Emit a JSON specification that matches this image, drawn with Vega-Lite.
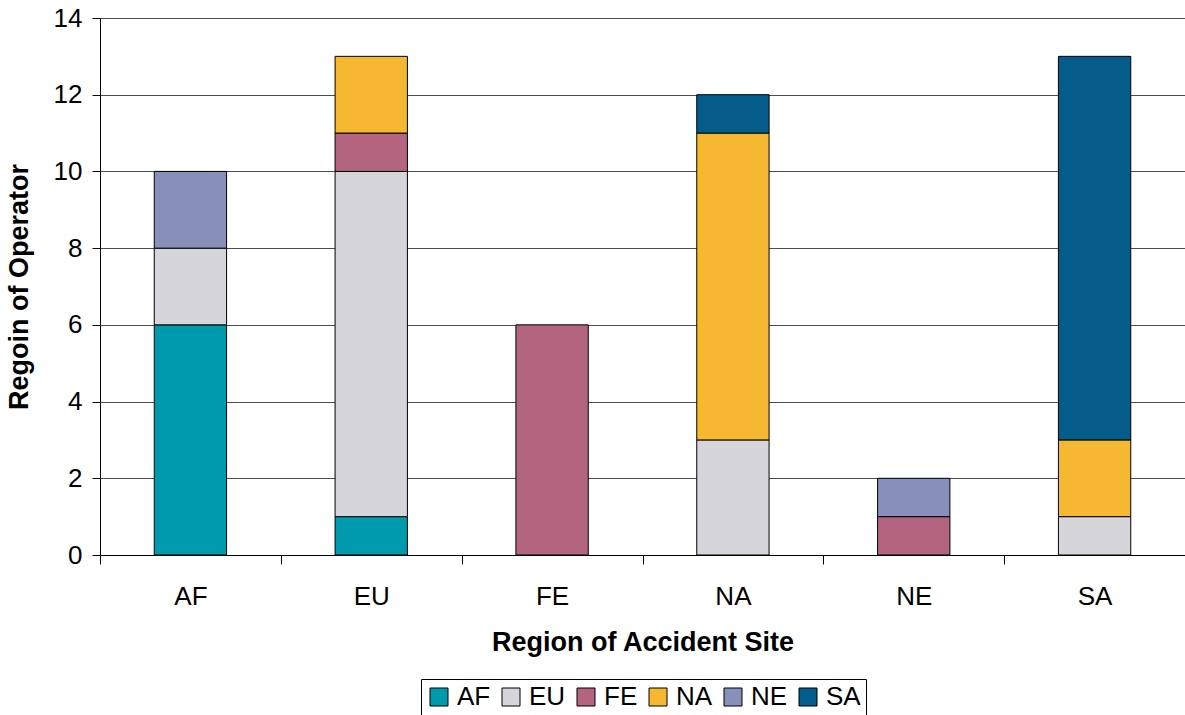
{
  "$schema": "https://vega.github.io/schema/vega-lite/v6.json",
  "autosize": "none",
  "width": 1085,
  "height": 537,
  "padding": {"left": 100, "top": 18, "right": 0, "bottom": 160},
  "background": "white",
  "config": {
    "font": "Liberation Sans",
    "view": {"stroke": null}
  },
  "data": {
    "values": [
      {"site": "AF", "operator": "AF", "count": 6, "ord": 1},
      {"site": "AF", "operator": "EU", "count": 2, "ord": 2},
      {"site": "AF", "operator": "NE", "count": 2, "ord": 5},
      {"site": "EU", "operator": "AF", "count": 1, "ord": 1},
      {"site": "EU", "operator": "EU", "count": 9, "ord": 2},
      {"site": "EU", "operator": "FE", "count": 1, "ord": 3},
      {"site": "EU", "operator": "NA", "count": 2, "ord": 4},
      {"site": "FE", "operator": "FE", "count": 6, "ord": 3},
      {"site": "NA", "operator": "EU", "count": 3, "ord": 2},
      {"site": "NA", "operator": "NA", "count": 8, "ord": 4},
      {"site": "NA", "operator": "SA", "count": 1, "ord": 6},
      {"site": "NE", "operator": "FE", "count": 1, "ord": 3},
      {"site": "NE", "operator": "NE", "count": 1, "ord": 5},
      {"site": "SA", "operator": "EU", "count": 1, "ord": 2},
      {"site": "SA", "operator": "NA", "count": 2, "ord": 4},
      {"site": "SA", "operator": "SA", "count": 10, "ord": 6}
    ]
  },
  "mark": {"type": "bar", "stroke": "black", "strokeWidth": 1},
  "encoding": {
    "x": {
      "field": "site",
      "type": "nominal",
      "sort": ["AF", "EU", "FE", "NA", "NE", "SA"],
      "scale": {"paddingInner": 0.6, "paddingOuter": 0.3},
      "axis": {
        "title": "Region of Accident Site",
        "titleFontSize": 27,
        "titleFontWeight": "bold",
        "titleColor": "black",
        "titlePadding": 20,
        "labelFontSize": 26,
        "labelColor": "black",
        "labelAngle": 0,
        "labelPadding": 19,
        "labelOffset": 90.4,
        "domainColor": "black",
        "domainWidth": 1,
        "ticks": true,
        "tickColor": "black",
        "tickWidth": 1,
        "tickSize": 9,
        "tickOffset": -90.4,
        "grid": false
      }
    },
    "y": {
      "field": "count",
      "type": "quantitative",
      "aggregate": "sum",
      "stack": "zero",
      "scale": {"domain": [0, 14], "nice": false},
      "axis": {
        "title": "Regoin of Operator",
        "titleFontSize": 27,
        "titleFontWeight": "bold",
        "titleColor": "black",
        "titlePadding": 20,
        "labelFontSize": 26,
        "labelColor": "black",
        "labelPadding": 10,
        "values": [0, 2, 4, 6, 8, 10, 12, 14],
        "domainColor": "black",
        "tickColor": "black",
        "tickSize": 8,
        "grid": true,
        "gridColor": "#000000",
        "gridWidth": 0.7
      }
    },
    "color": {
      "field": "operator",
      "type": "nominal",
      "scale": {
        "domain": ["AF", "EU", "FE", "NA", "NE", "SA"],
        "range": ["#009AAE", "#D5D5DA", "#B3657F", "#F5B830", "#8890BA", "#035C8A"]
      },
      "legend": {
        "title": null,
        "orient": "none",
        "legendX": 321,
        "legendY": 661,
        "direction": "horizontal",
        "columns": 6,
        "labelFontSize": 26,
        "labelColor": "black",
        "symbolType": "square",
        "symbolSize": 324,
        "symbolStrokeColor": "black",
        "symbolStrokeWidth": 1,
        "symbolOpacity": 1,
        "columnPadding": 7,
        "labelOffset": 5,
        "strokeColor": "black",
        "padding": 5
      }
    },
    "order": {"field": "ord", "type": "quantitative", "sort": "ascending"}
  }
}
